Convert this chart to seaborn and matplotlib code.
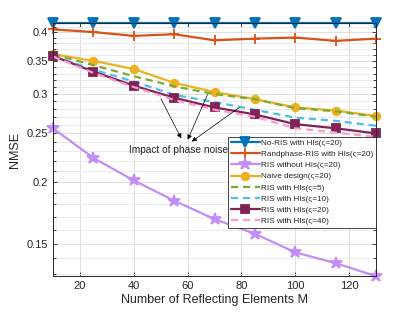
import matplotlib
matplotlib.use('Agg')
import numpy as np
import matplotlib.pyplot as plt
import seaborn as sns
from matplotlib.ticker import FixedLocator, FixedFormatter, NullFormatter

# number of reflecting elements
M = [10, 25, 40, 55, 70, 85, 100, 115, 130]

# NMSE per scheme
no_ris = [0.417, 0.417, 0.417, 0.417, 0.417, 0.417, 0.417, 0.417, 0.417]
randphase = [0.405, 0.400, 0.393, 0.396, 0.385, 0.388, 0.390, 0.384, 0.388]
ris_no_hi = [0.256, 0.223, 0.201, 0.183, 0.168, 0.157, 0.144, 0.137, 0.129]
naive = [0.361, 0.350, 0.337, 0.316, 0.303, 0.293, 0.282, 0.278, 0.271]
ris_hi_5 = [0.361, 0.343, 0.326, 0.311, 0.300, 0.293, 0.281, 0.277, 0.270]
ris_hi_10 = [0.358, 0.336, 0.318, 0.299, 0.289, 0.279, 0.269, 0.265, 0.259]
ris_hi_20 = [0.358, 0.333, 0.312, 0.295, 0.282, 0.273, 0.261, 0.256, 0.250]
ris_hi_40 = [0.357, 0.331, 0.310, 0.292, 0.279, 0.270, 0.256, 0.251, 0.246]

labels = ['No-RIS with HIs(ς=20)', 'Randphase-RIS with HIs(ς=20)',
          'RIS without HIs(ς=20)', 'Naive design(ς=20)',
          'RIS with HIs(ς=5)', 'RIS with HIs(ς=10)',
          'RIS with HIs(ς=20)', 'RIS with HIs(ς=40)']

y_major = [0.15, 0.2, 0.25, 0.3, 0.35, 0.4]
y_minor = [round(0.13 + 0.01 * i, 2) for i in range(29)]

sns.set_style('ticks')
plt.rcParams['font.family'] = ['Liberation Sans', 'DejaVu Sans']

fig = plt.figure(figsize=(4.15, 3.12), dpi=100)
ax = fig.add_axes([0.128, 0.115, 0.778, 0.811])

# (values, color, marker, markersize, dashed)
styles = [
    (no_ris, '#0072BD', 'v', 6.5, False),
    (randphase, '#D95319', '+', 7, False),
    (ris_no_hi, '#C28EF5', '*', 9, False),
    (naive, '#EDB120', 'o', 5.5, False),
    (ris_hi_5, '#77AC30', None, 0, True),
    (ris_hi_10, '#4DBEEE', None, 0, True),
    (ris_hi_20, '#7E2457', 's', 5.5, False),
    (ris_hi_40, '#FF9ACD', None, 0, True),
]

for (vals, col, mk, ms, dashed), lab in zip(styles, labels):
    kw = dict(x=M, y=vals, ax=ax, color=col, label=lab, linewidth=1.6,
              marker=mk, markersize=ms, markeredgecolor=col,
              markerfacecolor=col if mk not in ('+', None) else 'none',
              markeredgewidth=1.3, clip_on=False)
    if dashed:
        kw['dashes'] = (3.2, 2.2)
    sns.lineplot(**kw)

ax.set_yscale('log')
ax.set_xlim(10, 130)
ax.set_ylim(0.129, 0.417)
ax.set_xticks([20, 40, 60, 80, 100, 120])
ax.yaxis.set_major_locator(FixedLocator(y_major))
ax.yaxis.set_major_formatter(FixedFormatter([str(v) for v in y_major]))
ax.yaxis.set_minor_locator(FixedLocator(y_minor))
ax.yaxis.set_minor_formatter(NullFormatter())

ax.grid(True, which='major', color='#DEDEDE', linewidth=0.7)
ax.grid(True, which='minor', axis='y', color='#E8E8E8', linewidth=0.6)
ax.set_axisbelow(True)
ax.tick_params(direction='in', top=True, right=True, which='both',
               labelsize=8, colors='#262626', length=3, width=0.6)
ax.tick_params(which='minor', length=2)
for s in ax.spines.values():
    s.set_color('#262626')
    s.set_linewidth(0.7)

ax.set_xlabel('Number of Reflecting Elements M', fontsize=9, color='#262626', labelpad=2)
ax.set_ylabel('NMSE', fontsize=9, color='#262626', labelpad=4)

# arrows to the phase-noise annotation
arrow = dict(arrowstyle='-|>', color='black', lw=0.5, mutation_scale=7)
ax.annotate('', xy=(58.1, 0.2415), xytext=(49.6, 0.297), arrowprops=arrow)
ax.annotate('', xy=(59.6, 0.240), xytext=(67.8, 0.303), arrowprops=arrow)
ax.annotate('', xy=(60.7, 0.239), xytext=(80.0, 0.284), arrowprops=arrow)
ax.text(56.8, 0.232, 'Impact of phase noise', fontsize=7.3, ha='center', va='center')

leg = ax.legend(loc='upper right', bbox_to_anchor=(1.0, 0.551), fontsize=5.9,
                frameon=True, fancybox=False, framealpha=1, edgecolor='#262626',
                handlelength=3.6, handletextpad=0.15, labelspacing=0.42,
                borderpad=0.3, borderaxespad=0)
leg.get_frame().set_linewidth(0.6)

fig.savefig('out.png', dpi=100)
